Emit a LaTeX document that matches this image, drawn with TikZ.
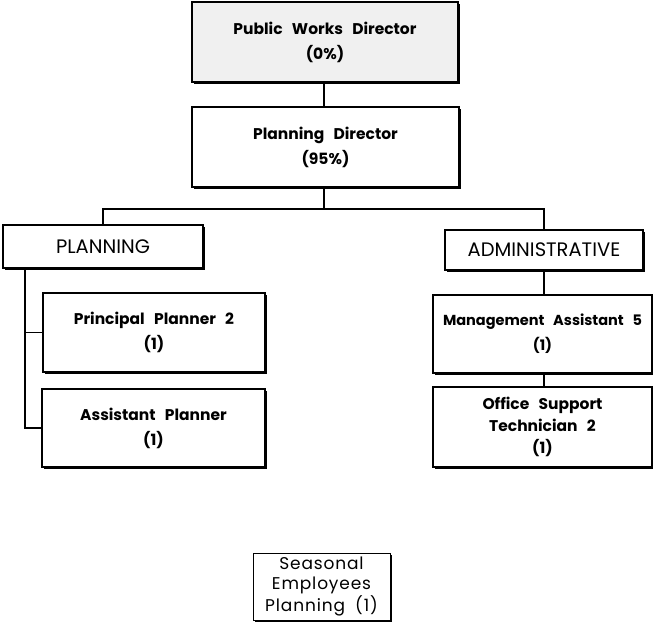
\documentclass[tikz,border=0pt]{standalone}
\usepackage{fontspec}
\setmainfont{Poppins}
\newfontfamily\seasonfamily[LetterSpace=5]{Poppins}
\usetikzlibrary{shadows}
\newcommand\unitfont{\fontsize{15.5}{25}\selectfont\bfseries\spaceskip=0.6em\relax}
\newcommand\unitfontnarrow{\fontsize{14.5}{25}\selectfont\bfseries\spaceskip=0.6em\relax}
\newcommand\unitfonttight{\fontsize{15.5}{22}\selectfont\bfseries\spaceskip=0.6em\relax}
\newcommand\sectionfont{\fontsize{19.5}{22}\selectfont}
\newcommand\seasonfont{\seasonfamily\fontsize{17}{20}\selectfont\spaceskip=0.6em\relax}
\begin{document}
\begin{tikzpicture}[x=1pt,y=-1pt,
  every node/.style={inner sep=0pt, outer sep=0pt},
  unit/.style={draw, line width=1.5pt, fill=white, align=center,
    drop shadow={shadow xshift=1.8pt, shadow yshift=-1.8pt, opacity=1, fill=black},
    font=\unitfont},
  section/.style={draw, line width=1.5pt, fill=white, align=center,
    drop shadow={shadow xshift=1.8pt, shadow yshift=-1.8pt, opacity=1, fill=black},
    font=\sectionfont},
  link/.style={line width=1.3pt}]
\useasboundingbox (0,0) rectangle (653,627);

% top of the chart
\node[unit, fill=black!6, minimum width=266pt, minimum height=80pt] (pwd) at (325,42)
  {Public Works Director\\(0\%)};
\node[unit, minimum width=267pt, minimum height=80pt] (pd) at (325.5,147)
  {Planning Director\\(95\%)};

% divisions
\node[section, minimum width=200pt, minimum height=43pt] (plan) at (103,246.5) {PLANNING};
\node[section, minimum width=198pt, minimum height=40pt] (admin) at (544,250) {ADMINISTRATIVE};

% planning staff
\node[unit, minimum width=222pt, minimum height=79pt] (pp) at (154,332.5)
  {Principal Planner 2\\(1)};
\node[unit, minimum width=223pt, minimum height=78pt] (ap) at (153.5,428)
  {Assistant Planner\\(1)};

% administrative staff
\node[unit, minimum width=219pt, minimum height=78pt, font=\unitfontnarrow] (ma) at (542.5,334)
  {Management Assistant 5\\(1)};
\node[unit, minimum width=219pt, minimum height=80pt, font=\unitfonttight] (ost) at (542.5,427)
  {Office Support\\Technician 2\\(1)};

% seasonal staff
\node[section, line width=1pt, minimum width=137pt, minimum height=67pt,
  drop shadow={shadow xshift=1.3pt, shadow yshift=-1.3pt, opacity=1, fill=black},
  font=\seasonfont] (se) at (321.5,586.5)
  {Seasonal\\Employees\\Planning (1)};

% connectors
\coordinate (split) at (324,209);
\coordinate (trunk) at (25,428);
\draw[link] (pwd.south -| split) -- (pd.north -| split);
\draw[link] (pd.south -| split) -- (split);
\draw[link] (split) -| (plan.north);
\draw[link] (split) -| (admin.north);
\draw[link] (plan.south -| trunk) -- (trunk) -- (ap.west);
\draw[link] (pp.west) -- (pp.west -| trunk);
\draw[link] (admin.south) -- (admin.south |- ma.north);
\draw[link] (ma.south -| admin.south) -- (ost.north -| admin.south);
\end{tikzpicture}
\end{document}
